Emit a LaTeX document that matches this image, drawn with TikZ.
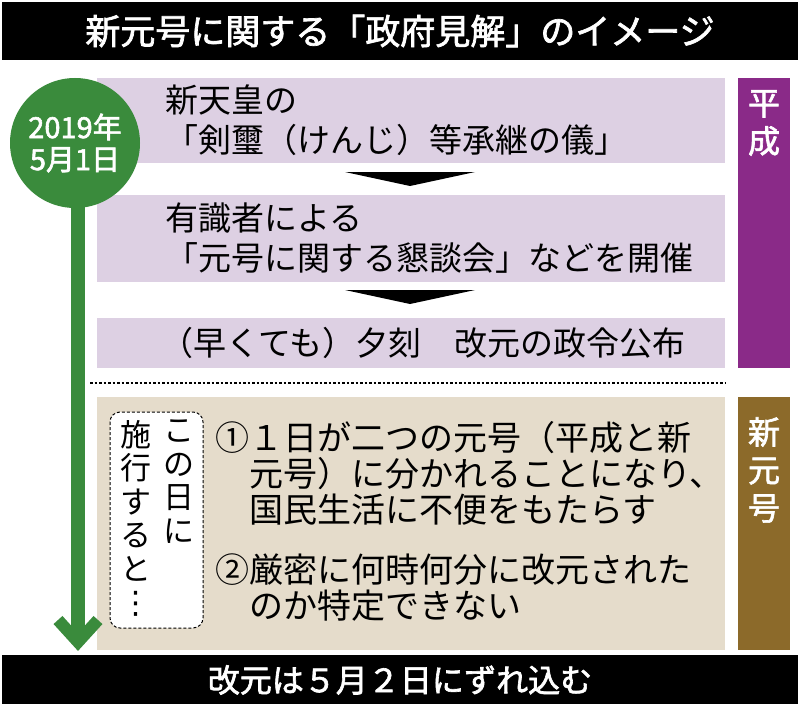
\documentclass[tikz,border=0pt]{standalone}
\usepackage{fontspec}
\newfontfamily\jp{Noto Sans CJK JP}
\newfontfamily\jpb{Noto Sans CJK JP}[FakeBold=2]
\newfontfamily\dv{DejaVu Sans}
\usetikzlibrary{arrows.meta}
\definecolor{lpurp}{HTML}{DDD0E3}
\definecolor{dpurp}{HTML}{8A2A88}
\definecolor{brn}{HTML}{8C6A2A}
\definecolor{beige}{HTML}{E5DCCB}
\definecolor{grn}{HTML}{3A8B3C}
\tikzset{
 pbox/.style={fill=lpurp,draw=none},
 txt/.style={font=\jp\fontsize{33}{40}\selectfont,anchor=west,align=left,inner sep=0},
 btxt/.style={font=\jp\fontsize{34}{36}\selectfont,anchor=west,align=left,inner sep=0},
 vtxt/.style={font=\jp\fontsize{31}{33.5}\selectfont,align=center,inner sep=0,anchor=north},
 tri/.style={fill=black},
}
\begin{document}
\begin{tikzpicture}[x=1pt,y=-1pt]
\useasboundingbox (0,0) rectangle (800,706);
\fill[white] (0,0) rectangle (800,706);
% title
\fill (2,2) rectangle (798,60);
\node[font=\jpb\fontsize{35}{36}\selectfont,text=white] (title) at (400,31) {新元号に関する「政府見解」のイメージ};
% purple boxes
\fill[pbox] (97,78) rectangle (725,163);
\fill[pbox] (97,195) rectangle (725,282);
\fill[pbox] (97,318) rectangle (725,368);
\node[txt] (t1) at (165,120) {新天皇の\\「剣璽（けんじ）等承継の儀」};
\node[txt] (t2) at (165,238) {有識者による\\「元号に関する懇談会」などを開催};
\node[txt] (t3) at (160,343) {（早くても）夕刻　改元の政令公布};
\fill[tri] (345,172) -- (475,172) -- (410,186) -- cycle;
\fill[tri] (345,290) -- (475,290) -- (410,304) -- cycle;
% right bars
\fill[dpurp] (738,78) rectangle (790,368);
\node[font=\jpb\fontsize{32}{38}\selectfont,text=white,align=center] (heisei) at (764,123) {平\\成};
\fill[brn] (738,397) rectangle (790,650);
\node[font=\jpb\fontsize{32}{38}\selectfont,text=white,align=center] (shin) at (764,470) {新\\元\\号};
% dotted line
\draw[dotted,line width=2.5pt] (90,383) -- (725,383);
% beige box
\fill[beige] (97,397) rectangle (725,650);
\draw[densely dashed,line width=1pt,rounded corners=10pt,fill=white] (110,412) rectangle (203,628);
\node[vtxt] (c1) at (179,420) {こ\\の\\日\\に};
\node[vtxt] (c2) at (136,420) {施\\行\\す\\る\\と\\{\dv ⋮}};
\node[btxt] (b1) at (215,473) {①１日が二つの元号（平成と新\\\hphantom{①}元号）に分かれることになり、\\\hphantom{①}国民生活に不便をもたらす};
\node[btxt] (b2) at (215,588) {②厳密に何時何分に改元された\\\hphantom{①}のか特定できない};
% green
\draw[grn,line width=14pt] (78,190) -- (78,640);
\draw[grn,line width=12pt,line cap=butt] (58,620) -- (78,642) -- (98,620);
\node[circle,fill=grn,minimum size=130pt,inner sep=0,text=white,font=\jpb\fontsize{29}{32}\selectfont,align=center] (date) at (75,143) {2019年\\5月1日};
% bottom
\fill (2,655) rectangle (798,704);
\node[font=\jpb\fontsize{32}{32}\selectfont,text=white] (bot) at (400,680) {改元は５月２日にずれ込む};
\end{tikzpicture}
\end{document}
